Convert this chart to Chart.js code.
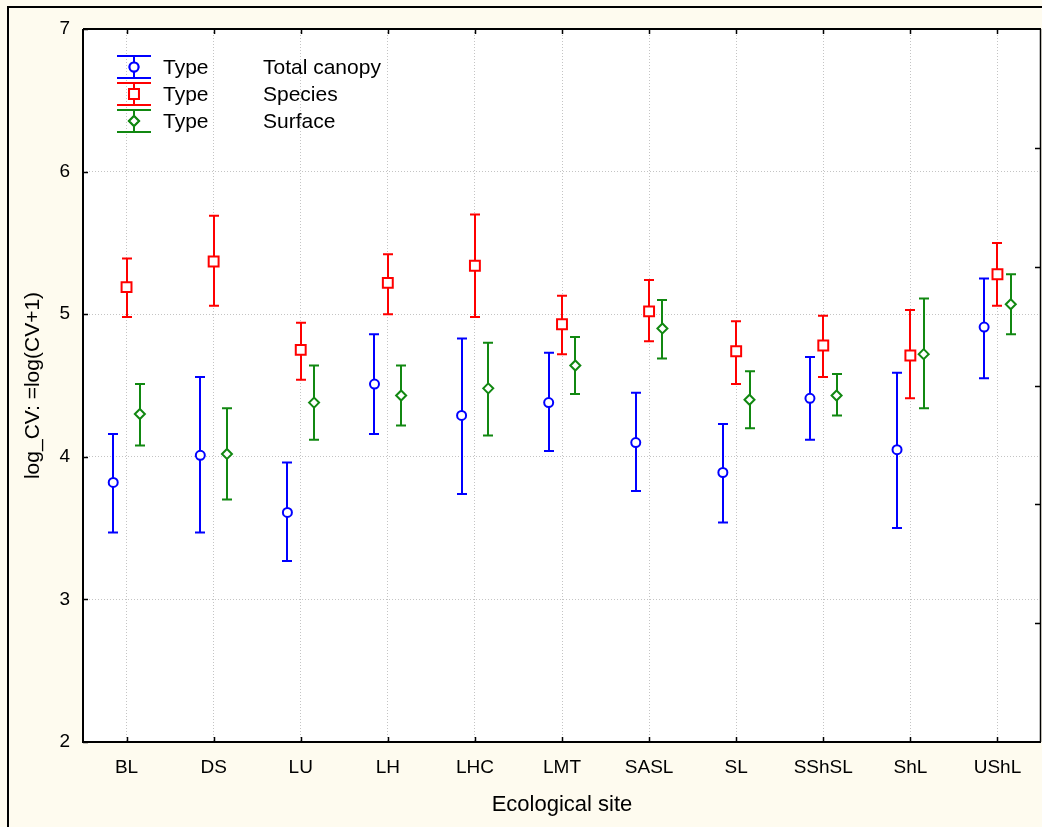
<!DOCTYPE html>
<html>
<head>
<meta charset="utf-8">
<title>log_CV by Ecological site</title>
<script src="https://cdn.jsdelivr.net/npm/chart.js@4.4.1/dist/chart.umd.min.js"></script>
<style>
    html, body { margin: 0; padding: 0; background: #fefbef; }
    #wrap { width: 1042px; height: 827px; position: relative; }
</style>
</head>
<body>
<div id="wrap"><canvas id="cvChart"></canvas></div>
<script>
// Ecological sites (x axis)
const categories = ['BL', 'DS', 'LU', 'LH', 'LHC', 'LMT', 'SASL', 'SL', 'SShSL', 'ShL', 'UShL'];

// Type = Total canopy
const canopyMean = [3.82, 4.01, 3.61, 4.51, 4.29, 4.38, 4.10, 3.89, 4.41, 4.05, 4.91];
const canopyLow  = [3.47, 3.47, 3.27, 4.16, 3.74, 4.04, 3.76, 3.54, 4.12, 3.50, 4.55];
const canopyHigh = [4.16, 4.56, 3.96, 4.86, 4.83, 4.73, 4.45, 4.23, 4.70, 4.59, 5.25];

// Type = Species
const speciesMean = [5.19, 5.37, 4.75, 5.22, 5.34, 4.93, 5.02, 4.74, 4.78, 4.71, 5.28];
const speciesLow  = [4.98, 5.06, 4.54, 5.00, 4.98, 4.72, 4.81, 4.51, 4.56, 4.41, 5.06];
const speciesHigh = [5.39, 5.69, 4.94, 5.42, 5.70, 5.13, 5.24, 4.95, 4.99, 5.03, 5.50];

// Type = Surface
const surfaceMean = [4.30, 4.02, 4.38, 4.43, 4.48, 4.64, 4.90, 4.40, 4.43, 4.72, 5.07];
const surfaceLow  = [4.08, 3.70, 4.12, 4.22, 4.15, 4.44, 4.69, 4.20, 4.29, 4.34, 4.86];
const surfaceHigh = [4.51, 4.34, 4.64, 4.64, 4.80, 4.84, 5.10, 4.60, 4.58, 5.11, 5.28];

// y tick labels
const yTicks = [2, 3, 4, 5, 6, 7];

const FONT = '"Liberation Sans", Arial, sans-serif';

function makeSeries(label, means, lows, highs, color, style, shift, radius) {
    return {
        label: label,
        data: means.map(function(v, i) { return { x: i + shift, y: v }; }),
        lows: lows,
        highs: highs,
        shift: shift,
        borderColor: color,
        backgroundColor: '#ffffff',
        pointStyle: style,
        pointRadius: radius,
        pointHoverRadius: radius,
        pointBorderWidth: 2,
        showLine: false
    };
}

// Hata çubukları - noktaların altına çizilir
const errorBars = {
    id: 'errorBars',
    beforeDatasetsDraw: function(chart) {
        const ctx = chart.ctx;
        const xs = chart.scales.x, ys = chart.scales.y;
        ctx.save();
        chart.data.datasets.forEach(function(ds) {
            ctx.strokeStyle = ds.borderColor;
            ctx.lineWidth = 2;
            ds.data.forEach(function(p, i) {
                const x = Math.round(xs.getPixelForValue(p.x));
                const yl = ys.getPixelForValue(ds.lows[i]);
                const yh = ys.getPixelForValue(ds.highs[i]);
                ctx.beginPath();
                ctx.moveTo(x, yl); ctx.lineTo(x, yh);
                ctx.moveTo(x - 5, yl); ctx.lineTo(x + 5, yl);
                ctx.moveTo(x - 5, yh); ctx.lineTo(x + 5, yh);
                ctx.stroke();
            });
        });
        ctx.restore();
    }
};

// Arka plan, çerçeve, içe dönük tikler ve lejant
const frame = {
    id: 'frame',
    beforeDraw: function(chart) {
        const ctx = chart.ctx, ca = chart.chartArea;
        ctx.save();
        ctx.fillStyle = '#fefbef';
        ctx.fillRect(0, 0, chart.width, chart.height);
        ctx.fillStyle = '#ffffff';
        ctx.fillRect(ca.left, ca.top, ca.right - ca.left, ca.bottom - ca.top);
        // outer border of the figure
        ctx.strokeStyle = '#000000';
        ctx.lineWidth = 2;
        ctx.beginPath();
        ctx.moveTo(8, chart.height);
        ctx.lineTo(8, 7);
        ctx.lineTo(chart.width, 7);
        ctx.stroke();
        ctx.restore();
    },
    afterDraw: function(chart) {
        const ctx = chart.ctx, ca = chart.chartArea;
        const xs = chart.scales.x, ys = chart.scales.y, y2 = chart.scales.y2;
        ctx.save();
        ctx.strokeStyle = '#000000';
        ctx.lineWidth = 2;
        ctx.beginPath();
        ctx.moveTo(ca.left, ca.top);
        ctx.lineTo(ca.left, ca.bottom);
        ctx.lineTo(ca.right, ca.bottom);
        ctx.moveTo(ca.left, ca.top);
        ctx.lineTo(ca.right, ca.top);
        ctx.stroke();
        ctx.lineWidth = 1.5;
        ctx.beginPath();
        ctx.moveTo(ca.right - 0.5, ca.top);
        ctx.lineTo(ca.right - 0.5, ca.bottom);
        ctx.stroke();

        ctx.lineWidth = 1.5;
        ctx.beginPath();
        categories.forEach(function(c, i) {
            const x = Math.round(xs.getPixelForValue(i)) + 0.5;
            ctx.moveTo(x, ca.bottom); ctx.lineTo(x, ca.bottom - 5);
            ctx.moveTo(x, ca.top); ctx.lineTo(x, ca.top + 5);
        });
        yTicks.forEach(function(v) {
            const y = Math.round(ys.getPixelForValue(v)) + 0.5;
            ctx.moveTo(ca.left, y); ctx.lineTo(ca.left + 5, y);
        });
        for (let k = 1; k < 6; k++) {
            const y = Math.round(y2.getPixelForValue(k)) + 0.5;
            ctx.moveTo(ca.right, y); ctx.lineTo(ca.right - 6, y);
        }
        ctx.stroke();

        // legend
        const lx = ca.left + 51;
        ctx.font = '21px ' + FONT;
        ctx.textBaseline = 'middle';
        chart.data.datasets.forEach(function(ds, i) {
            const cy = ca.top + 38 + 27 * i;
            ctx.strokeStyle = ds.borderColor;
            ctx.lineWidth = 2;
            ctx.beginPath();
            ctx.moveTo(lx, cy - 11); ctx.lineTo(lx, cy + 11);
            ctx.moveTo(lx - 17, cy - 11); ctx.lineTo(lx + 17, cy - 11);
            ctx.moveTo(lx - 17, cy + 11); ctx.lineTo(lx + 17, cy + 11);
            ctx.stroke();
            Chart.helpers.drawPoint(ctx, {
                pointStyle: ds.pointStyle, radius: ds.pointRadius, borderWidth: 2
            }, lx, cy);
            ctx.fillStyle = '#ffffff';
            ctx.fill();
            ctx.stroke();
            ctx.fillStyle = '#000000';
            ctx.fillText('Type', ca.left + 80, cy + 1);
            ctx.fillText(ds.label, ca.left + 180, cy + 1);
        });
        ctx.restore();
    }
};

document.addEventListener('DOMContentLoaded', function() {
    const ctx = document.getElementById('cvChart').getContext('2d');
    new Chart(ctx, {
        type: 'scatter',
        data: {
            datasets: [
                makeSeries('Total canopy', canopyMean, canopyLow, canopyHigh, '#0000ff', 'circle', -0.153, 4.5),
                makeSeries('Species', speciesMean, speciesLow, speciesHigh, '#ff0000', 'rect', 0, 7),
                makeSeries('Surface', surfaceMean, surfaceLow, surfaceHigh, '#118811', 'rectRot', 0.153, 5)
            ]
        },
        options: {
            responsive: true,
            maintainAspectRatio: false,
            animation: false,
            events: [],
            layout: { autoPadding: false, padding: { top: 29, right: 1, left: 0, bottom: 0 } },
            plugins: {
                legend: { display: false },
                tooltip: { enabled: false }
            },
            scales: {
                x: {
                    type: 'linear',
                    min: -0.5,
                    max: categories.length - 0.5,
                    afterBuildTicks: function(scale) {
                        scale.ticks = categories.map(function(c, i) { return { value: i }; });
                    },
                    afterFit: function(scale) {
                        scale.height = 85;
                        scale.paddingLeft = 0;
                        scale.paddingRight = 0;
                    },
                    ticks: {
                        autoSkip: false,
                        maxRotation: 0,
                        padding: 14,
                        color: '#000000',
                        font: { family: FONT, size: 19 },
                        callback: function(v) { return categories[v]; }
                    },
                    grid: { color: '#c4c4c4', drawTicks: false },
                    border: { display: false, dash: [1, 2] },
                    title: {
                        display: true,
                        text: 'Ecological site',
                        color: '#000000',
                        font: { family: FONT, size: 22 },
                        padding: { top: 0, bottom: 9 }
                    }
                },
                y: {
                    min: 2,
                    max: 7,
                    afterBuildTicks: function(scale) {
                        scale.ticks = yTicks.map(function(v) { return { value: v }; });
                    },
                    afterFit: function(scale) {
                        scale.width = 83;
                        scale.paddingTop = 0;
                        scale.paddingBottom = 0;
                    },
                    ticks: {
                        padding: 13,
                        color: '#000000',
                        font: { family: FONT, size: 19 }
                    },
                    grid: { color: '#c4c4c4', drawTicks: false },
                    border: { display: false, dash: [1, 2] },
                    title: {
                        display: true,
                        text: 'log_CV: =log(CV+1)',
                        color: '#000000',
                        font: { family: FONT, size: 21 },
                        padding: { top: 21, bottom: 0 }
                    }
                },
                y2: {
                    position: 'right',
                    display: false,
                    min: 0,
                    max: 6
                }
            }
        },
        plugins: [frame, errorBars]
    });
});
</script>
</body>
</html>
